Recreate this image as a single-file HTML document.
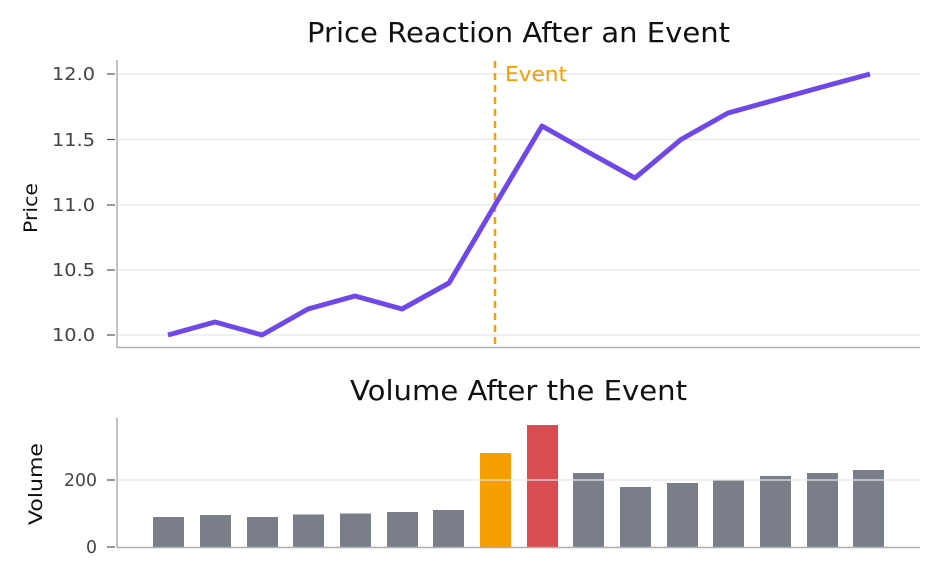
<!DOCTYPE html>
<html><head><meta charset="utf-8"><style>
html,body{margin:0;padding:0;background:#fff;}
svg{display:block;font-family:"DejaVu Sans","Liberation Sans",sans-serif;}
</style></head><body>
<svg width="940" height="580" viewBox="0 0 940 580" xmlns="http://www.w3.org/2000/svg">
<rect width="940" height="580" fill="#fff"/>
<text x="307" y="42" font-size="28" textLength="423" lengthAdjust="spacingAndGlyphs" fill="#111">Price Reaction After an Event</text>
<g stroke="#e6e6e6" stroke-width="1.2">
<line x1="117" x2="920" y1="74" y2="74"/><line x1="117" x2="920" y1="139.5" y2="139.5"/>
<line x1="117" x2="920" y1="205" y2="205"/><line x1="117" x2="920" y1="270" y2="270"/>
<line x1="117" x2="920" y1="335" y2="335"/>
</g>
<g font-size="18" fill="#444">
<text x="52" y="80" textLength="43" lengthAdjust="spacingAndGlyphs">12.0</text>
<text x="52" y="146" textLength="43" lengthAdjust="spacingAndGlyphs">11.5</text>
<text x="52" y="211" textLength="43" lengthAdjust="spacingAndGlyphs">11.0</text>
<text x="52" y="276" textLength="43" lengthAdjust="spacingAndGlyphs">10.5</text>
<text x="52" y="341" textLength="43" lengthAdjust="spacingAndGlyphs">10.0</text>
</g>
<g stroke="#555" stroke-width="1.2">
<line x1="107" x2="115" y1="74" y2="74"/><line x1="107" x2="115" y1="139.5" y2="139.5"/><line x1="107" x2="115" y1="205" y2="205"/><line x1="107" x2="115" y1="270" y2="270"/><line x1="107" x2="115" y1="335" y2="335"/>
</g>
<text transform="translate(37,233) rotate(-90)" font-size="19" textLength="50" lengthAdjust="spacingAndGlyphs" fill="#111">Price</text>
<line x1="495" x2="495" y1="61" y2="347" stroke="#f59f00" stroke-width="2.5" stroke-dasharray="7,5"/>
<text x="505" y="81" font-size="20" textLength="62" lengthAdjust="spacingAndGlyphs" fill="#f59f00">Event</text>
<polyline fill="none" stroke="#7048e8" stroke-width="5" stroke-linejoin="round" points="168,335 215,322 262,335 308,309 355,296 402,309 449,283 495,205 542,126 588,152 635,178 681,139.5 728,113 775,100 822,87 870,74"/>
<line x1="117" x2="117" y1="60" y2="348" stroke="#aab0b8" stroke-width="1.5"/>
<line x1="117" x2="920" y1="347.5" y2="347.5" stroke="#aab0b8" stroke-width="1.5"/>

<text x="350" y="400" font-size="28" textLength="337" lengthAdjust="spacingAndGlyphs" fill="#111">Volume After the Event</text>
<g fill="#7a7e88">
<rect x="153" y="517" width="31" height="30"/><rect x="200" y="515" width="31" height="32"/>
<rect x="247" y="517" width="31" height="30"/><rect x="293" y="514.5" width="31" height="32.5"/>
<rect x="340" y="513.5" width="31" height="33.5"/><rect x="387" y="512" width="31" height="35"/>
<rect x="433" y="510" width="31" height="37"/>
<rect x="573" y="473" width="31" height="74"/><rect x="620" y="487" width="31" height="60"/>
<rect x="667" y="483" width="31" height="64"/><rect x="713" y="480" width="31" height="67"/>
<rect x="760" y="476" width="31" height="71"/><rect x="807" y="473" width="31" height="74"/>
<rect x="853" y="470" width="31" height="77"/>
</g>
<rect x="480" y="453" width="31" height="94" fill="#f59f00"/>
<rect x="527" y="425" width="31" height="122" fill="#d94c4f"/>
<line x1="117" x2="920" y1="480" y2="480" stroke="#e6e6e6" stroke-width="1.2"/>
<g font-size="18" fill="#444">
<text x="64" y="486" textLength="33" lengthAdjust="spacingAndGlyphs">200</text>
<text x="86" y="553" textLength="11" lengthAdjust="spacingAndGlyphs">0</text>
</g>
<g stroke="#555" stroke-width="1.2"><line x1="107" x2="115" y1="480" y2="480"/><line x1="107" x2="115" y1="547" y2="547"/></g>
<text transform="translate(42,525) rotate(-90)" font-size="19" textLength="82" lengthAdjust="spacingAndGlyphs" fill="#111">Volume</text>
<line x1="117" x2="117" y1="418" y2="548" stroke="#aab0b8" stroke-width="1.5"/>
<line x1="117" x2="920" y1="547.5" y2="547.5" stroke="#aab0b8" stroke-width="1.5"/>
</svg>
</body></html>
